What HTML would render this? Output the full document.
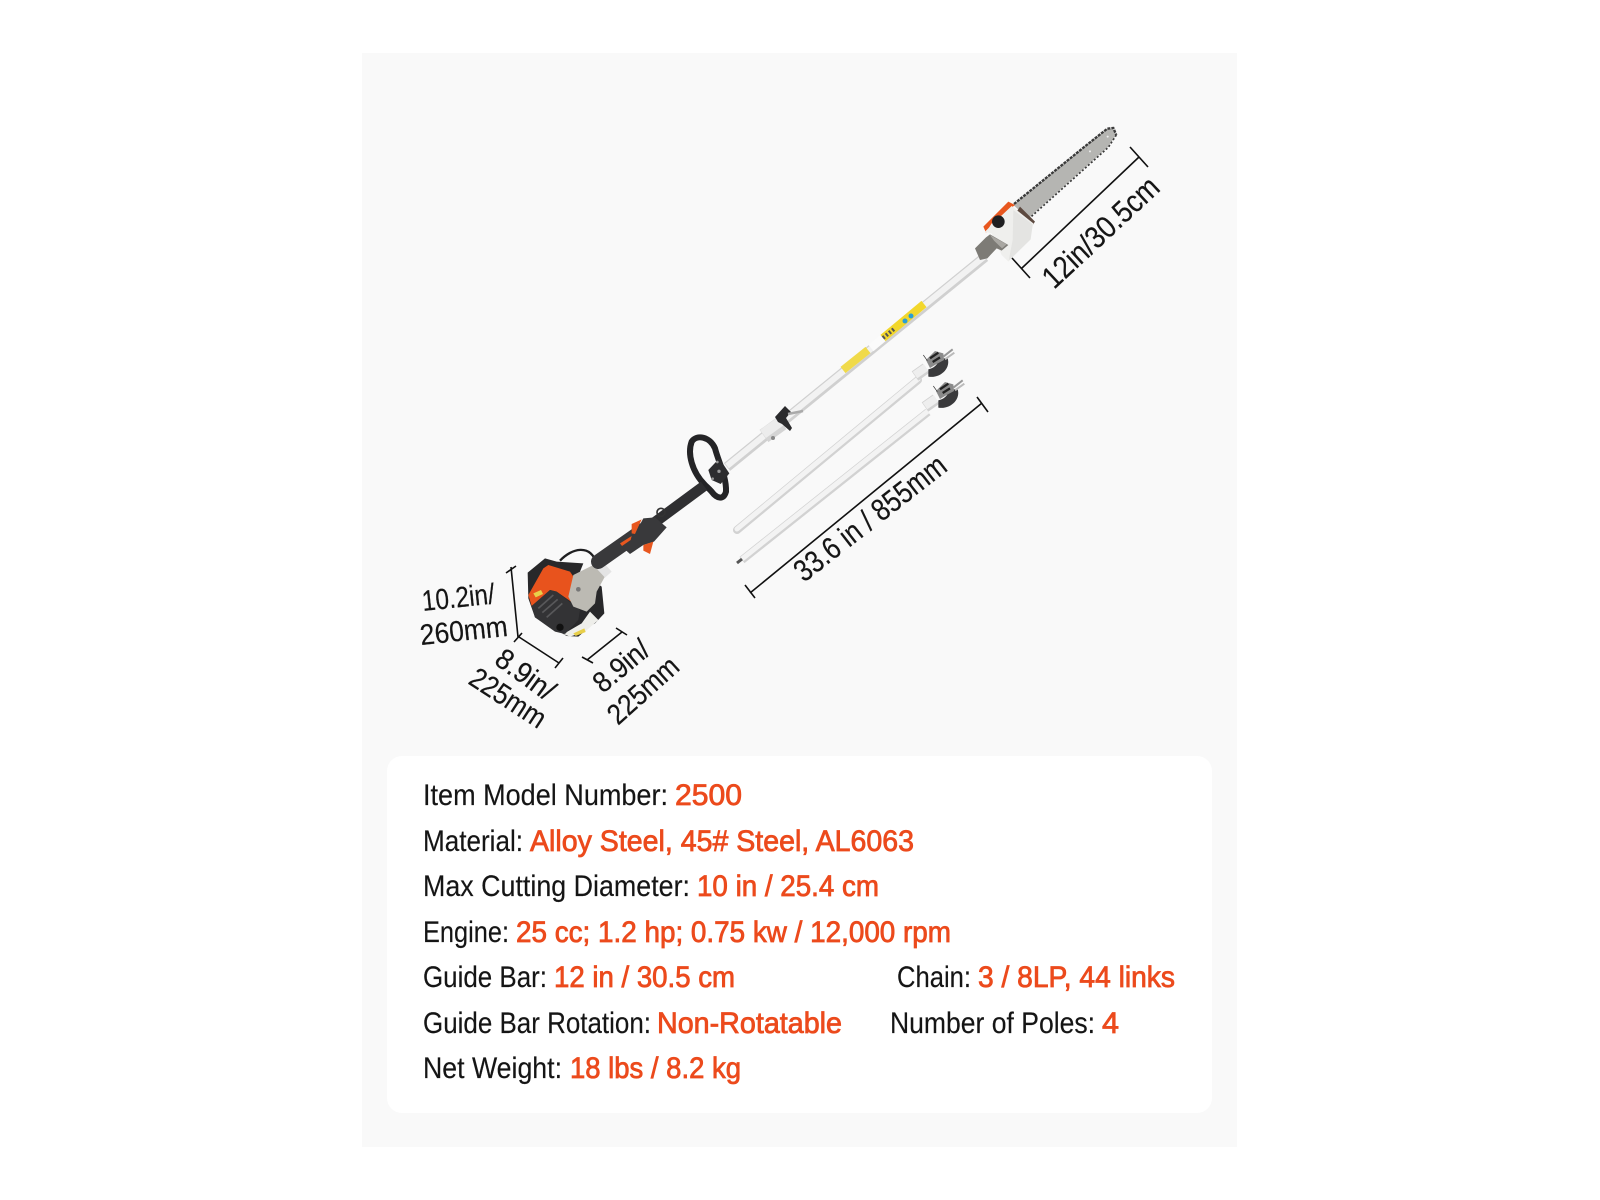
<!DOCTYPE html>
<html lang="en"><head><meta charset="utf-8"><title>Pole saw specifications</title>
<style>
html,body{margin:0;padding:0;background:#fff;width:1600px;height:1200px;overflow:hidden}
svg{display:block}
text{font-family:"Liberation Sans",sans-serif}
.k{font-size:30px;fill:#151515;stroke:#151515;stroke-width:.15}
.v{font-size:30px;fill:#ec4a1c;stroke:#ec4a1c;stroke-width:.8}
.d{font-size:31px;fill:#151515;stroke:#151515;stroke-width:.2}
.s{font-size:29px;fill:#151515;stroke:#151515;stroke-width:.2}
</style></head><body>
<svg width="1600" height="1200" viewBox="0 0 1600 1200" xmlns="http://www.w3.org/2000/svg">
<rect x="362" y="53" width="875" height="1094" fill="#f9f9f9"/>
<rect x="387" y="756" width="825" height="357" rx="15" fill="#fff"/>

<!-- main pole -->
<line x1="727" y1="467" x2="985" y2="257" stroke="#d0d0d0" stroke-width="10"/>
<line x1="727" y1="466" x2="985" y2="256" stroke="#f2f2f2" stroke-width="6"/>
<line x1="843" y1="370" x2="868" y2="350" stroke="#f0da4a" stroke-width="8"/>
<line x1="871" y1="348" x2="883" y2="338" stroke="#fbfbfb" stroke-width="8"/>
<line x1="883" y1="338" x2="924" y2="304" stroke="#f2d72c" stroke-width="8"/>
<line x1="883" y1="338" x2="894" y2="329" stroke="#555" stroke-width="4" stroke-dasharray="2 2"/>
<circle cx="905" cy="321" r="2.5" fill="#2a9ed6"/><circle cx="911" cy="316" r="2.5" fill="#2a9ed6"/>

<!-- clamp -->
<line x1="764" y1="436" x2="782" y2="423" stroke="#d4d4d4" stroke-width="15"/>
<line x1="763" y1="434" x2="781" y2="421" stroke="#ececec" stroke-width="10"/>
<polygon points="775,417 785,406 791,412 786,418 792,428 790,431 782,424 778,422" fill="#2b2b2d"/>
<line x1="788" y1="414" x2="803" y2="411" stroke="#aaa" stroke-width="2.5"/>
<circle cx="773" cy="438" r="2" fill="#888"/>

<!-- removable poles -->
<line x1="737" y1="530" x2="918" y2="380" stroke="#d2d2d2" stroke-width="8" stroke-linecap="round"/>
<line x1="737" y1="529" x2="918" y2="379" stroke="#f3f3f3" stroke-width="5" stroke-linecap="round"/>
<line x1="742" y1="560" x2="928" y2="412" stroke="#d2d2d2" stroke-width="8"/>
<line x1="742" y1="559" x2="928" y2="411" stroke="#f3f3f3" stroke-width="5"/>
<line x1="737" y1="563" x2="742" y2="559" stroke="#555" stroke-width="3"/>
<g transform="translate(910,340) scale(.33333)">
<line x1="15" y1="108" x2="48" y2="85" stroke="#d2d2d2" stroke-width="34"/>
<line x1="15" y1="105" x2="48" y2="82" stroke="#eeeeee" stroke-width="24"/>
<path d="M55 110 C90 116 125 85 112 52 L85 60 C85 72 72 85 55 88Z" fill="#3a3a3c"/>
<polygon points="48,60 75,33 100,40 102,60 80,72 60,84" fill="#8a8a8a"/>
<path d="M60 55 L85 38 M68 66 L90 52" stroke="#222" stroke-width="7"/>
<line x1="100" y1="50" x2="128" y2="28" stroke="#999" stroke-width="6"/>
<line x1="105" y1="58" x2="133" y2="38" stroke="#bbb" stroke-width="6"/>
<line x1="40" y1="45" x2="52" y2="62" stroke="#333" stroke-width="2"/>
</g>
<g transform="translate(920,371) scale(.33333)">
<line x1="15" y1="108" x2="48" y2="85" stroke="#d2d2d2" stroke-width="34"/>
<line x1="15" y1="105" x2="48" y2="82" stroke="#eeeeee" stroke-width="24"/>
<path d="M55 110 C90 116 125 85 112 52 L85 60 C85 72 72 85 55 88Z" fill="#3a3a3c"/>
<polygon points="48,60 75,33 100,40 102,60 80,72 60,84" fill="#8a8a8a"/>
<path d="M60 55 L85 38 M68 66 L90 52" stroke="#222" stroke-width="7"/>
<line x1="100" y1="50" x2="128" y2="28" stroke="#999" stroke-width="6"/>
<line x1="105" y1="58" x2="133" y2="38" stroke="#bbb" stroke-width="6"/>
<line x1="40" y1="45" x2="52" y2="62" stroke="#333" stroke-width="2"/>
</g>

<!-- guide bar -->
<g transform="translate(900,90) scale(.33333)">
<polygon points="340,345 560,165 620,118 640,116 648,135 625,170 385,385" fill="#b5b5b2"/>
<path d="M342 342 L560 165 L622 116 L640 114 L649 135" fill="none" stroke="#3a3a3a" stroke-width="7" stroke-dasharray="9 3"/>
<path d="M649 135 L625 172 L388 385" fill="none" stroke="#3a3a3a" stroke-width="5" stroke-dasharray="6 6"/>
<circle cx="570" cy="184" r="3" fill="#eee"/><circle cx="623" cy="140" r="3" fill="#eee"/>
</g>
<!-- saw head -->
<g transform="translate(970,190) scale(.33333)">
<polygon points="40,110 115,35 135,45 65,100 48,128" fill="#e8571f"/>
<polygon points="150,50 195,95 188,105 140,65" fill="#5d4a40"/>
<polygon points="45,125 70,100 125,48 190,100 185,125 180,150 115,215 95,195 65,130" fill="#efefed"/>
<polygon points="130,60 188,103 182,148 116,212 128,150" fill="#e4e4e2"/>
<circle cx="85" cy="95" r="19" fill="#1f1f21"/>
<polygon points="15,175 48,142 60,133 115,165 95,182 80,175 52,205 30,210" fill="#7d7b76"/>
<polygon points="60,135 110,163 96,175 72,152" fill="#a9a7a2"/>
</g>

<!-- engine -->
<g transform="translate(515,530) scale(.33333)">
<path d="M135 92 C170 55 225 40 245 100" fill="none" stroke="#1f1f21" stroke-width="7"/>
<polygon points="38,128 90,85 125,95 205,100 195,125 260,170 268,250 240,280 230,285 190,320 155,318 60,262 40,205" fill="#28282a"/>
<polygon points="145,312 200,280 225,245 250,270 210,305 165,320" fill="#eeeeea"/>
<polygon points="175,310 208,295 212,306 182,318" fill="#e8cf4a"/>
<polygon points="40,195 85,115 100,105 165,125 182,150 168,215 125,185 105,180 50,228" fill="#e8531d"/>
<polygon points="55,190 78,180 84,192 62,202" fill="#e8cf4a"/>
<polygon points="50,228 105,180 125,185 195,240 190,270 150,312 120,305 60,262" fill="#333335"/>
<path d="M70 235 L115 195 M82 248 L128 208 M95 262 L142 220" stroke="#58585a" stroke-width="5" fill="none"/>
<circle cx="135" cy="292" r="11" fill="#111"/>
<polygon points="175,135 235,105 275,130 245,185 240,220 215,245 175,230 160,200" fill="#bcbab3"/>
<polygon points="247,118 268,100 290,125 270,143" fill="#e4e4e4"/>
<circle cx="190" cy="178" r="7" fill="#777"/>
</g>

<!-- handle -->
<g transform="translate(600,430) scale(.33333)">
<path d="M315 165 C275 125 262 70 275 35 C290 12 330 20 345 55 C355 95 380 140 378 185 C370 212 350 205 335 185 C325 174 322 172 315 165Z" fill="none" stroke="#242426" stroke-width="18"/>
<polygon points="325,120 358,85 388,130 362,162 335,150" fill="#2d2d2f"/>
<circle cx="357" cy="124" r="5" fill="#999"/><circle cx="338" cy="146" r="4" fill="#999"/><circle cx="352" cy="96" r="4" fill="#999"/>
<line x1="140" y1="295" x2="312" y2="168" stroke="#2f2f31" stroke-width="32"/>
<circle cx="183" cy="247" r="12" fill="none" stroke="#333" stroke-width="5"/>
<line x1="-5" y1="395" x2="130" y2="300" stroke="#39393b" stroke-width="44" stroke-linecap="round"/>
<polygon points="60,345 105,310 130,265 165,262 200,292 162,335 130,345 90,372" fill="#39393b"/>
<polygon points="95,282 125,268 105,312 95,310" fill="#e8571f"/>
<polygon points="60,340 95,318 92,330 66,348" fill="#e8571f"/>
<polygon points="130,345 160,335 150,372 130,362" fill="#e8571f"/>
</g>

<!-- dimension lines -->
<g stroke="#111" stroke-width="1.6" fill="none">
<path d="M1022 268 L1139 157 M1012 258 L1030 278 M1130 147 L1148 167"/>
<path d="M750 593 L982 403 M745 585 L755 598 M977 397 L988 412"/>
<path d="M511 567 L518 637 M506 573 L516 566"/>
<path d="M519 637 L559 663 M514 642 L522 633 M555 668 L563 658"/>
<path d="M587 660 L622 632 M582 657 L593 663 M616 628 L627 635"/>
</g>

<!-- dimension labels -->
<text class="d" transform="translate(1054,290) rotate(-43)" textLength="147" lengthAdjust="spacingAndGlyphs">12in/30.5cm</text>
<text class="d" transform="translate(804,583) rotate(-38)" textLength="184" lengthAdjust="spacingAndGlyphs">33.6 in / 855mm</text>
<text class="s" transform="translate(423,611) rotate(-6)" textLength="73" lengthAdjust="spacingAndGlyphs">10.2in/</text>
<text class="s" transform="translate(421,645) rotate(-6)" textLength="88" lengthAdjust="spacingAndGlyphs">260mm</text>
<text class="s" transform="translate(493,663) rotate(36)" textLength="66" lengthAdjust="spacingAndGlyphs">8.9in/</text>
<text class="s" transform="translate(467,683) rotate(33)" textLength="85" lengthAdjust="spacingAndGlyphs">225mm</text>
<text class="s" transform="translate(603,694) rotate(-40)" textLength="64" lengthAdjust="spacingAndGlyphs">8.9in/</text>
<text class="s" transform="translate(618,726) rotate(-42)" textLength="85" lengthAdjust="spacingAndGlyphs">225mm</text>

<!-- spec table -->
<text class="k" x="423" y="805" textLength="245" lengthAdjust="spacingAndGlyphs">Item Model Number:</text>
<text class="v" x="675" y="805" textLength="67" lengthAdjust="spacingAndGlyphs">2500</text>
<text class="k" x="423" y="851" textLength="100" lengthAdjust="spacingAndGlyphs">Material:</text>
<text class="v" x="530" y="851" textLength="384" lengthAdjust="spacingAndGlyphs">Alloy Steel, 45# Steel, AL6063</text>
<text class="k" x="423" y="896" textLength="267" lengthAdjust="spacingAndGlyphs">Max Cutting Diameter:</text>
<text class="v" x="697" y="896" textLength="182" lengthAdjust="spacingAndGlyphs">10 in / 25.4 cm</text>
<text class="k" x="423" y="942" textLength="86" lengthAdjust="spacingAndGlyphs">Engine:</text>
<text class="v" x="516" y="942" textLength="435" lengthAdjust="spacingAndGlyphs">25 cc; 1.2 hp; 0.75 kw / 12,000 rpm</text>
<text class="k" x="423" y="987" textLength="124" lengthAdjust="spacingAndGlyphs">Guide Bar:</text>
<text class="v" x="554" y="987" textLength="181" lengthAdjust="spacingAndGlyphs">12 in / 30.5 cm</text>
<text class="k" x="897" y="987" textLength="74" lengthAdjust="spacingAndGlyphs">Chain:</text>
<text class="v" x="978" y="987" textLength="197" lengthAdjust="spacingAndGlyphs">3 / 8LP, 44 links</text>
<text class="k" x="423" y="1033" textLength="228" lengthAdjust="spacingAndGlyphs">Guide Bar Rotation:</text>
<text class="v" x="657" y="1033" textLength="185" lengthAdjust="spacingAndGlyphs">Non-Rotatable</text>
<text class="k" x="890" y="1033" textLength="205" lengthAdjust="spacingAndGlyphs">Number of Poles:</text>
<text class="v" x="1102" y="1033" textLength="17" lengthAdjust="spacingAndGlyphs">4</text>
<text class="k" x="423" y="1078" textLength="139" lengthAdjust="spacingAndGlyphs">Net Weight:</text>
<text class="v" x="570" y="1078" textLength="171" lengthAdjust="spacingAndGlyphs">18 lbs / 8.2 kg</text>
</svg>
</body></html>
